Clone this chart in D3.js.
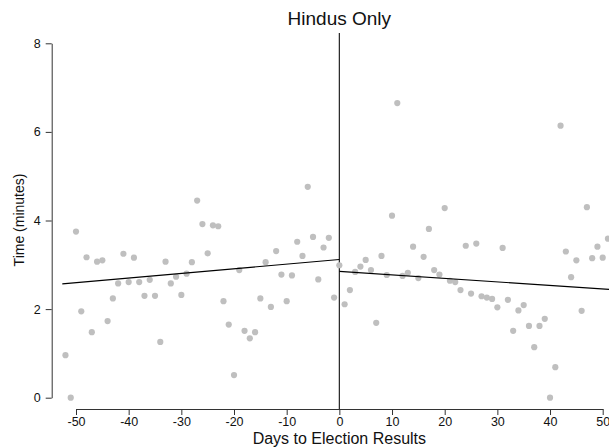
<!DOCTYPE html>
<html>
<head>
<meta charset="utf-8">
<script src="https://cdn.jsdelivr.net/npm/d3@7"></script>
<style>
  body { margin: 0; background: #fff; }
  svg { display: block; font-family: "Liberation Sans", Arial, sans-serif; }
</style>
</head>
<body>
<div id="chart"></div>
<script>
// days to election results (x) and time in minutes (y)
const days = [
  -52, -51, -50, -49, -48, -47, -46, -45, -44, -43, -42, -41, -40,
  -39, -38, -37, -36, -35, -34, -33, -32, -31, -30, -29, -28, -27,
  -26, -25, -24, -23, -22, -21, -20, -19, -18, -17, -16, -15, -14,
  -13, -12, -11, -10, -9, -8, -7, -6, -5, -4, -3, -2, -1,
  0, 1, 2, 3, 4, 5, 6, 7, 8, 9, 10, 11, 12,
  13, 14, 15, 16, 17, 18, 19, 20, 21, 22, 23, 24, 25,
  26, 27, 28, 29, 30, 31, 32, 33, 34, 35, 36, 37, 38,
  39, 40, 41, 42, 43, 44, 45, 46, 47, 48, 49, 50, 51
];
const minutes = [
  0.96, 0.00, 3.75, 1.95, 3.17, 1.48, 3.07, 3.10, 1.73, 2.24, 2.58, 3.25, 2.61,
  3.16, 2.61, 2.30, 2.66, 2.30, 1.26, 3.07, 2.58, 2.73, 2.32, 2.80, 3.06, 4.45,
  3.92, 3.26, 3.89, 3.87, 2.18, 1.65, 0.51, 2.88, 1.51, 1.34, 1.48, 2.24, 3.06,
  2.05, 3.31, 2.78, 2.18, 2.76, 3.52, 3.20, 4.76, 3.63, 2.67, 3.39, 3.61, 2.26,
  2.99, 2.11, 2.43, 2.84, 2.96, 3.11, 2.88, 1.69, 3.20, 2.77, 4.11, 6.65, 2.75,
  2.82, 3.41, 2.70, 3.18, 3.81, 2.88, 2.78, 4.28, 2.64, 2.61, 2.43, 3.43, 2.35,
  3.48, 2.29, 2.26, 2.23, 2.04, 3.38, 2.21, 1.51, 1.97, 2.09, 1.62, 1.14, 1.62,
  1.78, 0.00, 0.69, 6.14, 3.30, 2.72, 3.10, 1.96, 4.30, 3.15, 3.41, 3.16, 3.59
];

// fitted lines either side of the cutoff: [day, minutes]
const fitBefore = [[-52.6, 2.57], [0, 3.12]];
const fitAfter = [[0, 2.85], [52, 2.44]];

const xTicks = [-50, -40, -30, -20, -10, 0, 10, 20, 30, 40, 50];
const yTicks = [0, 2, 4, 6, 8];

const width = 609, height = 448;

const svg = d3.select("#chart")
  .append("svg")
  .attr("width", width)
  .attr("height", height);

const x = d3.scaleLinear().domain([-50, 50]).range([76, 602.7]);
const y = d3.scaleLinear().domain([0, 8]).range([397.7, 43.3]);

// title
svg.append("text")
  .attr("x", x(0))
  .attr("y", 25)
  .attr("text-anchor", "middle")
  .attr("font-size", "19px")
  .attr("fill", "#111")
  .text("Hindus Only");

// x axis
const xAxis = svg.append("g")
  .attr("transform", "translate(0,409)")
  .call(d3.axisBottom(x).tickValues(xTicks).tickSize(6).tickSizeOuter(0).tickFormat(d => String(d)));
xAxis.selectAll("text").attr("font-size", "12.5px").attr("fill", "#111").attr("y", 8).attr("dy", "0.74em");

// y axis
const yAxis = svg.append("g")
  .attr("transform", "translate(51.7,0)")
  .call(d3.axisLeft(y).tickValues(yTicks).tickSize(6).tickSizeOuter(0).tickFormat(d => String(d)));
yAxis.selectAll("text").attr("font-size", "12.5px").attr("fill", "#111").attr("x", -11);

svg.selectAll(".domain, .tick line").attr("stroke", "#333");

// axis titles
svg.append("text")
  .attr("x", x(0))
  .attr("y", 444)
  .attr("text-anchor", "middle")
  .attr("font-size", "16px")
  .attr("fill", "#111")
  .text("Days to Election Results");

svg.append("text")
  .attr("transform", `translate(24,${y(4) - 0.5}) rotate(-90)`)
  .attr("text-anchor", "middle")
  .attr("font-size", "14px")
  .attr("fill", "#111")
  .text("Time (minutes)");

// cutoff line at day 0
svg.append("line")
  .attr("x1", x(0)).attr("x2", x(0))
  .attr("y1", 33).attr("y2", 409)
  .attr("stroke", "#222")
  .attr("stroke-width", 1.2);

// points
const points = days.map((d, i) => ({ day: d, value: minutes[i] }));
svg.selectAll("circle")
  .data(points)
  .enter()
  .append("circle")
  .attr("cx", d => x(d.day))
  .attr("cy", d => y(d.value))
  .attr("r", 3.1)
  .attr("fill", "#bfbfbf");

// fitted lines
const line = d3.line().x(d => x(d[0])).y(d => y(d[1]));
[fitBefore, fitAfter].forEach(seg => {
  svg.append("path")
    .attr("d", line(seg))
    .attr("fill", "none")
    .attr("stroke", "#000")
    .attr("stroke-width", 1.2);
});
</script>
</body>
</html>
